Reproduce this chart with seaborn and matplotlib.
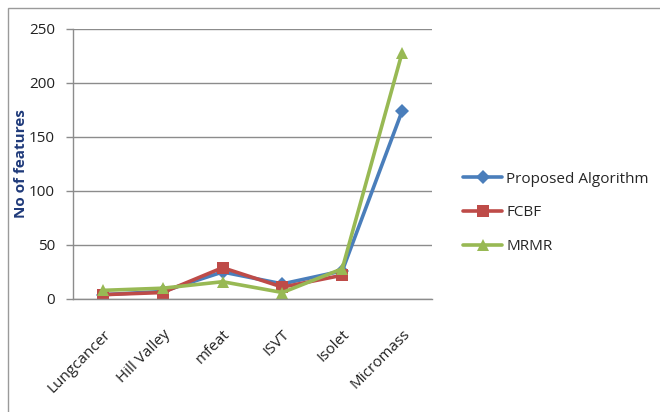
import matplotlib
matplotlib.use('Agg')
import matplotlib.pyplot as plt
import numpy as np
import pandas as pd
import seaborn as sns
from matplotlib.patches import Rectangle

# chart values
datasets = ["Lungcancer", "Hill Valley", "mfeat", "ISVT", "Isolet", "Micromass"]
proposed = [4, 7, 25, 14, 26, 174]
fcbf = [4, 6, 29, 11, 22, np.nan]
mrmr = [8, 10, 16, 6, 28, 228]
series_names = ["Proposed Algorithm", "FCBF", "MRMR"]
y_ticks = [0, 50, 100, 150, 200, 250]

sns.set_theme(style="white")
plt.rcParams['font.family'] = ['Open Sans', 'DejaVu Sans']

df = pd.DataFrame({
    "dataset": datasets * 3,
    "series": [s for s in series_names for _ in datasets],
    "value": proposed + fcbf + mrmr,
})
df["pos"] = df["dataset"].map({d: i for i, d in enumerate(datasets)})

palette = {"Proposed Algorithm": "#4A7EBB", "FCBF": "#BE4B48", "MRMR": "#98B954"}
markers = {"Proposed Algorithm": "D", "FCBF": "s", "MRMR": "^"}

fig = plt.figure(figsize=(6.6, 4.12), dpi=100)
# outer chart frame
fig.patches.append(Rectangle((8 / 660, -0.1), 1.1, 1 - 8 / 412 + 0.1,
                             transform=fig.transFigure, fill=False,
                             edgecolor="#9a9a9a", linewidth=1.0))
ax = fig.add_axes([73 / 660, 1 - 299 / 412, (432 - 73) / 660, (299 - 29) / 412])

for name in series_names:
    sub = df[df["series"] == name].dropna()
    sns.lineplot(data=sub, x="pos", y="value", ax=ax, color=palette[name],
                 marker=markers[name], markersize=9 if name != "Proposed Algorithm" else 7,
                 markeredgewidth=0, linewidth=2.6, label=name)

ax.set_xlim(-0.5, len(datasets) - 0.5)
ax.set_ylim(0, 250)
ax.set_yticks(y_ticks)
ax.set_xticks(range(len(datasets)))
ax.set_xticklabels(datasets, rotation=45, ha="right", rotation_mode="anchor",
                   fontsize=11, color="#222222")
ax.set_xticks(np.arange(-0.5, len(datasets), 1), minor=True)
ax.tick_params(axis="x", which="major", length=0, pad=20)
ax.tick_params(axis="x", which="minor", length=5, color="#8c8c8c", width=1, direction="out")
ax.tick_params(axis="y", length=5, color="#8c8c8c", width=1, direction="out", pad=8,
               labelsize=11, labelcolor="#222222", left=True)
ax.grid(axis="y", color="#8c8c8c", linewidth=1)
ax.set_axisbelow(True)
for side in ["top", "right"]:
    ax.spines[side].set_visible(False)
for side in ["left", "bottom"]:
    ax.spines[side].set_color("#8c8c8c")
    ax.spines[side].set_linewidth(1)

ax.set_xlabel("")
ax.set_ylabel("No of features", fontsize=11, fontweight="bold", color="#1F3A7A", labelpad=1)

leg = ax.legend(loc="upper left", bbox_to_anchor=(449 / 660, 1 - 158 / 412),
                bbox_transform=fig.transFigure, frameon=False, fontsize=11,
                labelspacing=1.22, handlelength=2.6, handletextpad=0.25)

fig.savefig("out.png", dpi=100)
